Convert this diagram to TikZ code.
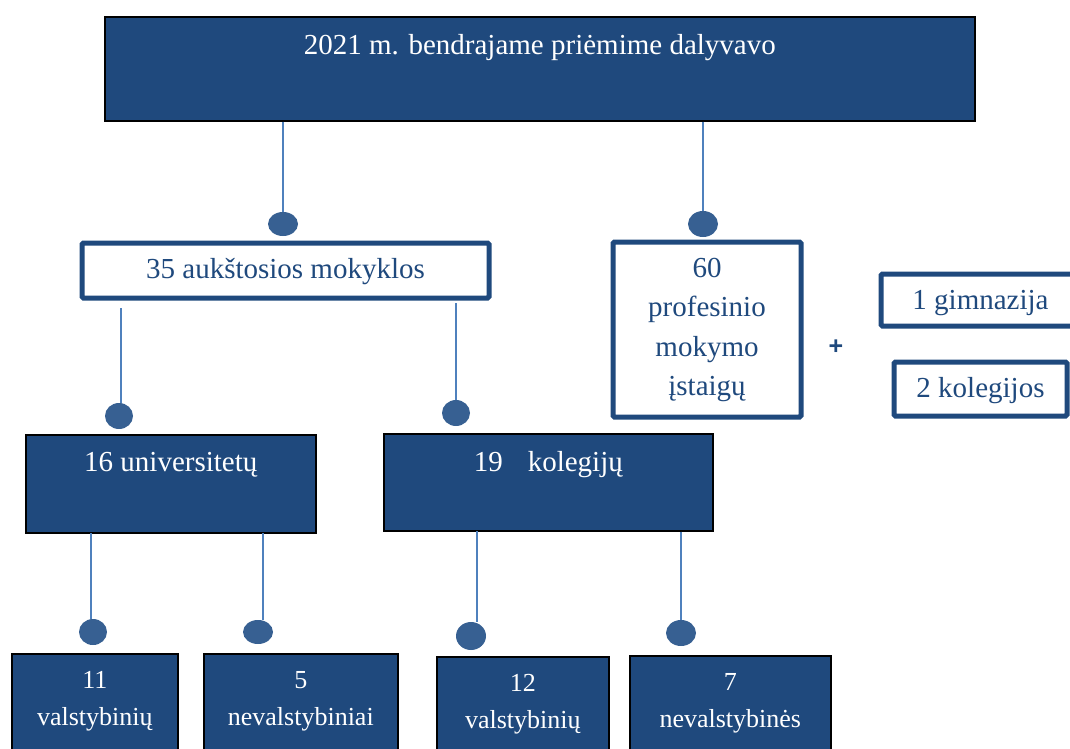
\documentclass[tikz,border=0pt]{standalone}
\usepackage{fontspec}
\setmainfont{Liberation Serif}
\newfontfamily\plusfont{Liberation Sans}
\usetikzlibrary{shapes.geometric}
\definecolor{navy}{HTML}{1F497D}
\definecolor{dotc}{HTML}{376092}
\definecolor{linec}{HTML}{4F81BD}
\tikzset{
  darkbox/.style={draw=black, line width=1.6pt, fill=navy, text=white, inner sep=0pt, anchor=north west},
  whitebox/.style={draw=navy, line width=5pt, rounded corners=1.5pt, fill=white, text=navy, inner sep=0pt, anchor=north west},
  dot/.style={ellipse, fill=dotc, inner sep=0pt, minimum width=30pt, minimum height=26pt},
  conn/.style={draw=linec, line width=1.3pt},
  plus/.style={text=navy, inner sep=0pt, font=\plusfont\bfseries\fontsize{25}{25}\selectfont},
}
% width, height, baseline offset, text
\newcommand\bxt[4]{\parbox[c][#2][t]{#1}{\centering\rule{0pt}{#3}#4\par}}
\begin{document}
\begin{tikzpicture}[x=1pt,y=-1pt]
\useasboundingbox (0,0) rectangle (1070,749);
\clip (0,0) rectangle (1070,749);
\fontsize{29}{39.3}\selectfont
% boxes
\node[darkbox] (top) at (104,16) {\bxt{870pt}{104pt}{37.5pt}{2021 m. bendrajame priėmime dalyvavo}};
\node[whitebox] (ak) at (79.5,240.5) {\bxt{407pt}{55pt}{35.5pt}{35 aukštosios mokyklos}};
\node[whitebox] (pr) at (610.5,239.5) {\bxt{188pt}{175pt}{35.5pt}{60\\profesinio\\mokymo\\įstaigų}};
\node[plus] (pl) at (836,347) {+};
\node[whitebox] (gim) at (878.5,271.5) {\bxt{199pt}{52pt}{35.5pt}{1 gimnazija}};
\node[whitebox] (kol2) at (891.5,359.5) {\bxt{173pt}{54pt}{35pt}{2 kolegijos}};
\node[darkbox] (uni) at (25,434) {\bxt{290pt}{98pt}{37pt}{16 universitetų}};
\node[darkbox] (kol) at (383,433) {\bxt{329pt}{97pt}{38pt}{19\hspace{25pt}kolegijų}};
\begingroup
\fontsize{26}{37}\selectfont
\node[darkbox] (u1) at (11,653) {\bxt{166pt}{110pt}{35pt}{11\\valstybinių}};
\node[darkbox] (u2) at (203,653) {\bxt{194pt}{110pt}{35pt}{5\\nevalstybiniai}};
\node[darkbox] (k1) at (436,656) {\bxt{172pt}{110pt}{34.5pt}{12\\valstybinių}};
\node[darkbox] (k2) at (629,655) {\bxt{201pt}{110pt}{34.5pt}{7\\nevalstybinės}};
\endgroup
% dots
\node[dot, minimum height=24pt] (d1) at (283,224) {};
\node[dot] (d2) at (703,224) {};
\node[dot, minimum width=28pt] (d3) at (119,416) {};
\node[dot, minimum width=28pt] (d4) at (456,413) {};
\node[dot, minimum width=28pt] (d5) at (93,632) {};
\node[dot, minimum height=24pt] (d6) at (258,632) {};
\node[dot, minimum height=28pt] (d7) at (471,636) {};
\node[dot] (d8) at (681,633) {};
% connectors
\coordinate (s3) at (121,308);
\coordinate (s5) at (91,533);
\coordinate (s6) at (263,533);
\coordinate (s7) at (477,531);
\draw[conn] (top.south -| d1) -- (d1.north);
\draw[conn] (top.south -| d2) -- (d2.north);
\draw[conn] (s3) -- (s3 |- d3.north);
\draw[conn] ([yshift=-2.5pt]ak.south -| d4) -- (d4.north);
\draw[conn] (s5) -- (s5 |- d5.north);
\draw[conn] (s6) -- (s6 |- d6.north);
\draw[conn] (s7) -- (s7 |- d7.north);
\draw[conn] (kol.south -| d8) -- (d8.north);
\end{tikzpicture}
\end{document}
